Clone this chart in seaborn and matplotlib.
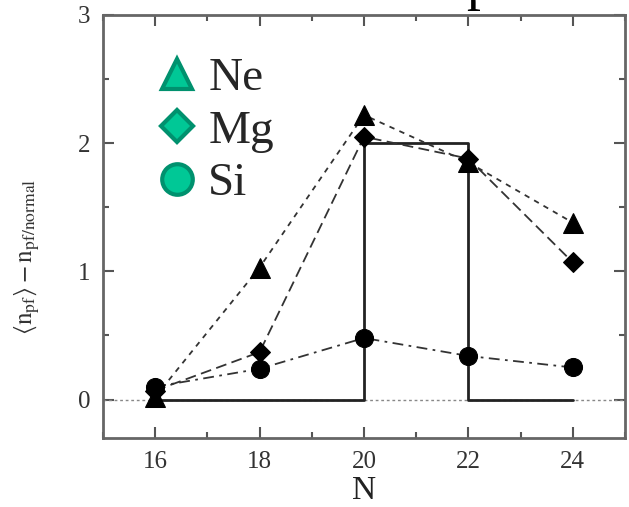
import matplotlib
matplotlib.use("Agg")
import matplotlib.pyplot as plt
from matplotlib.lines import Line2D
from matplotlib.ticker import MultipleLocator
import seaborn as sns
import pandas as pd

# ---- data ----
N_values = [16, 18, 20, 22, 24]
ne_values = [0.02, 1.03, 2.22, 1.85, 1.38]
mg_values = [0.07, 0.37, 2.05, 1.88, 1.07]
si_values = [0.10, 0.24, 0.48, 0.34, 0.25]
series_names = ["Ne", "Mg", "Si"]
step_N = [16, 20, 22, 24]
step_values = [0, 2, 0, 0]
x_ticks = [16, 18, 20, 22, 24]
y_ticks = [0, 1, 2, 3]

sns.set_style("ticks")
plt.rcParams["font.family"] = ["Liberation Serif", "DejaVu Serif"]
plt.rcParams["mathtext.fontset"] = "stix"

fig = plt.figure(figsize=(6.29, 5.07), dpi=100)
ax = fig.add_axes([103 / 629, 69 / 507, 522 / 629, 423 / 507])

# dotted zero line
ax.axhline(0, color="#888888", lw=1.0, ls=(0, (2, 2)), zorder=1)

# step line
sns.lineplot(x=step_N, y=step_values, ax=ax, color="#222222", lw=2.0,
             drawstyle="steps-post", estimator=None, zorder=2)

df = pd.DataFrame({"N": N_values, "Ne": ne_values, "Mg": mg_values, "Si": si_values})
styles = {
    "Ne": dict(marker="^", markersize=15, ls=(0, (3, 3))),
    "Mg": dict(marker="D", markersize=10, ls=(0, (6, 3))),
    "Si": dict(marker="o", markersize=13, ls=(0, (6, 3, 1.5, 3))),
}
for name in series_names:
    st = styles[name]
    sns.lineplot(data=df, x="N", y=name, ax=ax, color="#333333", lw=1.3,
                 linestyle=st["ls"], marker=st["marker"], markersize=st["markersize"],
                 markerfacecolor="black", markeredgecolor="black",
                 estimator=None, zorder=3)

ax.set_xlim(15, 25)
ax.set_ylim(-0.3, 3)
ax.set_xticks(x_ticks)
ax.set_yticks(y_ticks)
ax.xaxis.set_minor_locator(MultipleLocator(1))
ax.yaxis.set_minor_locator(MultipleLocator(0.5))
ax.tick_params(which="both", direction="in", top=True, right=True,
               color="#555555", labelsize=18, labelcolor="#333333", pad=9)
ax.tick_params(which="major", length=8, width=1.5)
ax.tick_params(which="minor", length=4, width=1.5)
for sp in ax.spines.values():
    sp.set_color("#666666")
    sp.set_linewidth(2.0)

ax.set_xlabel("N", fontsize=24, color="#222222", labelpad=2)
ax.set_ylabel(r"$\langle \mathrm{n}_{\mathrm{pf}}\rangle - \mathrm{n}_{\mathrm{pf/normal}}$",
              fontsize=18, color="#333333")
ax.yaxis.set_label_coords(-0.117, 0.428)

handles = [
    Line2D([], [], ls="none", marker="^", markersize=21, markerfacecolor="#00c896",
           markeredgecolor="#00916e", markeredgewidth=3),
    Line2D([], [], ls="none", marker="D", markersize=16, markerfacecolor="#00c896",
           markeredgecolor="#00916e", markeredgewidth=3),
    Line2D([], [], ls="none", marker="o", markersize=22, markerfacecolor="#00c896",
           markeredgecolor="#00916e", markeredgewidth=3),
]
ax.legend(handles, series_names, loc="upper left", bbox_to_anchor=(0.064, 0.945),
          frameon=False, fontsize=34, handlelength=0.9, handletextpad=0.22,
          labelspacing=0.2, borderaxespad=0)

# partially visible title glyph at the top edge
fig.text(466 / 629, 1.0 + 1 / 507, "p", fontsize=40, va="baseline", ha="left",
         color="black")

fig.savefig("out.png", dpi=100)
